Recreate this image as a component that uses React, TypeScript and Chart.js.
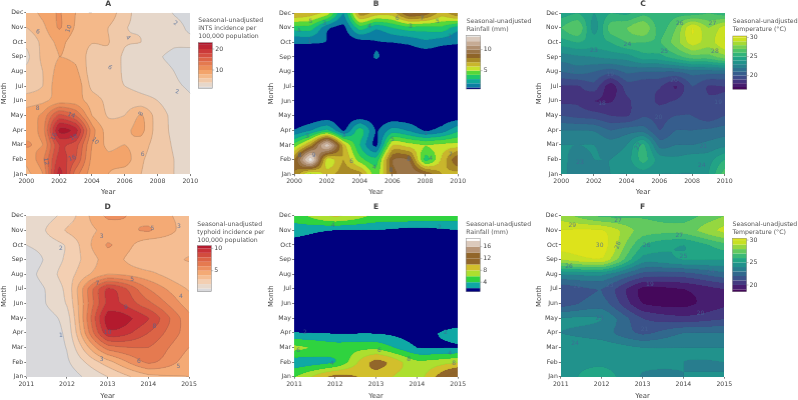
import React, { useEffect, useRef } from "react";
import { Chart, registerables } from "chart.js";

Chart.register(...registerables);

const MONTHS = ["Jan","Feb","Mar","Apr","May","Jun","Jul","Aug","Sep","Oct","Nov","Dec"];
const YEARS_TOP = [2000,2001,2002,2003,2004,2005,2006,2007,2008,2009,2010];
const YEARS_BOTTOM = [2011,2012,2013,2014,2015];

// rows run Jan -> Dec, columns run through the years
const INTS_INCIDENCE = [
  [7.5,10,21,13,9,8,7,6,5,4,3],
  [8.5,11.5,19,16,9.5,8.5,9,6.3,5,4,3],
  [10.2,10,18,17,10,7.5,8,7,5,3.8,2.8],
  [9,11,22.5,21,11,7,7.5,8.6,5,3.6,2.7],
  [9,10.5,16.5,14,8,5.8,6,8.2,5,3.5,2.6],
  [7,7.5,9,9,7,5.5,5,4.7,4,3,2.2],
  [5,6,9.5,9.5,5.5,5,4,3.5,3.2,2.3,1.8],
  [4.5,6,8.8,8.5,5,6,3.5,3,2.8,2,1.4],
  [3.5,6.5,8,7.5,5.2,5.5,3.6,3,2.2,1.6,1.4],
  [4.5,6.5,8.5,7,6.1,6.1,4.2,4,3,2.3,2.3],
  [6,7.5,10.2,7.8,7,6,4.1,3.8,3,2.6,1.7],
  [7,8.5,10.2,8,8,7.5,4.5,3.5,3,1.9,1.4],
];
const RAIN_TOP = [
  [8,4.5,6.5,7.5,7.5,4.5,8.5,10,9,7,6.5],
  [8,13.5,5.5,7,4.5,3.4,9,9,3.7,6.2,9],
  [4.5,7.5,12.5,6.5,3,0.8,6,5.5,5,5.3,5.5],
  [1.1,2,3.3,0.9,3.5,0.9,2.5,1.9,0.9,1.5,2.8],
  [0.3,0.3,0.4,0.3,0.4,0.3,0.3,0.3,0.3,0.3,0.4],
  [0.2,0.2,0.2,0.2,0.2,0.2,0.2,0.2,0.2,0.2,0.2],
  [0.2,0.2,0.2,0.2,0.2,0.2,0.2,0.2,0.2,0.2,0.2],
  [0.2,0.2,0.2,0.2,0.2,0.2,0.2,0.2,0.2,0.2,0.2],
  [0.2,0.2,0.2,0.2,0.2,1.1,0.2,0.2,0.2,0.2,0.2],
  [1.1,1.1,0.95,0.3,0.5,0.9,1,1.2,1.7,1.3,1.1],
  [3.5,3.5,1.2,0.7,3.5,2.2,3,3.6,3.6,3.7,2.4],
  [7,6.5,5.5,2,7.5,6.5,6.5,9,8.5,6.5,8],
];
const TEMP_TOP = [
  [23.5,22,22.5,23,23,23.5,23,23,23,24,26.5],
  [23.3,22.5,23,23,23.5,25.4,23.5,23.2,23.5,23.6,25],
  [23,23,23,22.5,23,25.2,21.6,22,22,22.3,22.7],
  [22,22,21.9,21,21.5,21.6,20,21,21,21.2,21.5],
  [20,19.7,19.5,19,18.9,19.9,19.6,20,20,19.3,20],
  [18.8,18.8,18,17.9,18.8,19.5,18.8,19.1,20,19.2,19.3],
  [18.9,18.9,19.6,17.4,19.5,19.3,19.1,17.9,20,18.9,19],
  [21,21.4,21,20.4,21.2,21,21,21,21.5,21.5,21.5],
  [22.5,22.8,23,23.3,23.5,24.5,24.6,25.5,26.5,26.5,27.5],
  [24.5,25,24.5,25,26,26,25.9,27.5,29.5,28.5,30],
  [26,27,23.5,26.5,27,28,25.5,27,30,28,29.5],
  [24.5,25,24,25,24.8,25.7,25.2,25.6,25.5,26,25.5],
];
const TYPHOID_INCIDENCE = [
  [0.3,0.5,2,3.7,4],
  [0.2,0.85,3.6,6.2,4.5],
  [0.5,1.05,6.5,7,5],
  [0.5,1.25,9.7,8,5.5],
  [0.5,1.5,10.6,9.05,5.3],
  [0.4,2.1,9.3,7.3,4.5],
  [0.3,2.3,9.2,6,3.9],
  [0.6,2.5,5,4.3,3.1],
  [0.3,2.2,4.4,3.2,4.1],
  [1,2.1,5.1,3.3,3.4],
  [1.1,3.1,4.3,5.1,3.5],
  [1,2.4,5.2,4.5,3.7],
];
const RAIN_BOTTOM = [
  [5.9,10.8,9,7,14],
  [2.9,4,10.8,6.4,7.8],
  [6.5,5,5.5,2,2],
  [2.1,1.9,1.9,1.2,2.8],
  [0.8,0.7,0.6,0.5,0.5],
  [0.5,0.5,0.5,0.5,0.5],
  [0.5,0.5,0.5,0.5,0.5],
  [0.5,0.5,0.5,0.5,0.5],
  [0.5,0.5,0.5,0.5,0.5],
  [1.2,0.5,0.5,0.5,0.5],
  [2.8,1.9,1.9,1.2,1.9],
  [5,8.3,5.5,5.5,5],
];
const TEMP_BOTTOM = [
  [24.6,25.5,23.9,24,24],
  [24.7,24.8,24.2,24,24],
  [24.5,24.6,24,24,24],
  [24,23.5,21.8,23,23],
  [24.1,24,21,20.3,20.9],
  [21.5,22.5,19,18.7,19.8],
  [21.3,22,18.7,19,20],
  [24,24.2,21.6,21.5,22.6],
  [29,29.8,24.5,25,25],
  [30.5,30.6,26,25,26.6],
  [30.1,30.1,27.5,27.4,29.3],
  [28.5,26.8,26.9,26.5,28],
];

// contour labels: [year, month position, text, rotation]
const LABELS_A = [[2009.1,11.27,"2",30],[2009.2,6.6,"2",10],[2006.2,10.3,"4",50],[2000.7,10.7,"6",10],[2005.1,8.25,"6",30],[2002.6,10.9,"10",-70],[2000.7,5.5,"8",0],[2007,5.1,"8",-60],[2002.75,5,"14",20],[2001.7,3.55,"16",-70],[2002.9,3.5,"18",-30],[2004.2,3.25,"10",45],[2007.1,2.3,"6",0],[2001.2,1.85,"12",80],[2002.8,2.07,"16",-20]];
const LABELS_B = [[2000.3,10.8,"4",-20],[2001,11.45,"5",0],[2001.85,11.3,"3",0],[2004.6,11.05,"4",0],[2006.3,11.65,"6",0],[2007.8,11.6,"7",0],[2008.75,11.4,"5",0],[2007.1,11.1,"3",0],[2000.95,10.05,"1",0],[2009.5,10.4,"1",0],[2006,3.35,"5",0],[2008.05,3.8,"1",0],[2000.8,3.55,"3",0],[2003.05,3.65,"3",0],[2000.35,2.3,"8",0],[2001.2,2.3,"9",0],[2004.9,1.5,"4",0],[2003.5,1.9,"6",0],[2005.9,1.27,"8",0],[2007,2,"8",0],[2008.35,2.07,"4",0],[2009.55,2.35,"7",0]];
const LABELS_C = [[2007.25,11.27,"26",0],[2009.25,11.3,"27",0],[2009.4,9.35,"28",0],[2004.05,9.85,"24",0],[2006.3,9.4,"25",0],[2002,9.45,"23",0],[2000.6,8.1,"21",0],[2003,7.8,"19",0],[2006.9,7.4,"20",0],[2002.5,5.8,"18",0],[2009.6,5.9,"19",0],[2005.95,4.85,"20",0],[2004.7,2.9,"22",-60],[2008.7,2.9,"21",0],[2001.15,1.8,"23",0],[2008.6,1.6,"24",0]];
const LABELS_D = [[2014.1,11.1,"5",0],[2014.75,11.25,"3",0],[2012.85,10.6,"3",0],[2011.85,9.75,"2",0],[2013.6,7.65,"5",0],[2012.75,7.35,"7",0],[2014.8,6.5,"4",0],[2013.45,5.7,"9",0],[2014.15,4.4,"8",0],[2013,4,"10",0],[2011.85,3.85,"1",0],[2012.85,2.15,"3",0],[2013.77,2.07,"6",0],[2014.74,1.7,"5",0]];
const LABELS_E = [[2011.95,11.35,"4",0],[2014.55,11.2,"2",0],[2011.27,4,"2",0],[2014.7,4.05,"2",0],[2011.1,2.8,"6",0],[2013.08,2.8,"6",0],[2014.8,2.6,"4",0],[2011.92,1.9,"4",0],[2013.8,2.15,"8",0],[2014.9,1.9,"8",0]];
const LABELS_F = [[2011.28,11.35,"29",0],[2012.4,11.65,"27",0],[2013.9,10.65,"27",0],[2012.4,9.98,"28",-70],[2013.1,10,"26",0],[2014,9.2,"25",0],[2011.2,8.55,"26",0],[2014.67,8.2,"24",0],[2011.4,7.2,"22",0],[2012.2,7.25,"23",0],[2013.18,7.3,"19",0],[2014.42,5.35,"20",0],[2013.05,4.25,"21",0],[2011.95,5,"23",0],[2011.35,3.3,"24",0],[2011.95,9.98,"30",0]];

const LEVELS_A = [2,4,6,8,10,12,14,16,18,20,22];
const LEVELS_B = [1,2,3,4,5,6,7,8,9,10,11,12,13];
const LEVELS_C = [17,18,19,20,21,22,23,24,25,26,27,28,29,30];
const LEVELS_D = [1,2,3,4,5,6,7,8,9,10];
const LEVELS_E = [2,4,6,8,10,12,14,16,18];
const LEVELS_F = [19,20,21,22,23,24,25,26,27,28,29,30];

const COLORS_A = ["#d5d7db","#e6d7ca","#f0c9a9","#f4b98a","#f3a46b","#ec8f5a","#e47a4f","#dd6547","#d54f41","#cb3a3a","#bd2634","#ab162b"];
const COLORS_B = ["#00007f","#0b7fa2","#0fa79a","#1fc86a","#55d83a","#c8e22c","#c9b62c","#a98a26","#8f6428","#9b7548","#b08f70","#c6ab94","#d9c9bc","#e9e6e2"];
const COLORS_D = ["#d9d9dc","#e8d9cc","#f3cfb2","#f5bd92","#f4aa75","#ed9060","#e57a50","#dc6446","#d24c3e","#c83238","#b41a2e"];
const COLORS_E = ["#00007f","#0fa8a5","#2fd33f","#acdf2f","#d2bf2c","#92662a","#92662a","#b89678","#dccabc","#ffffff"];
const VIRIDIS = ["#440154","#482475","#414487","#355f8d","#2a788e","#21918c","#22a884","#44bf70","#7ad151","#bddf26","#e4e419"];

const hex = (h: string) => [1, 3, 5].map((i) => parseInt(h.slice(i, i + 2), 16));
function viridisBands(levels: number[], lo: number, hi: number) {
  const edges = [lo, ...levels, hi];
  const out: string[] = [];
  for (let i = 0; i < edges.length - 1; i++) {
    const t = Math.min(1, Math.max(0, ((edges[i] + edges[i + 1]) / 2 - lo) / (hi - lo))) * 10;
    const k = Math.min(9, Math.floor(t));
    const a = hex(VIRIDIS[k]), b = hex(VIRIDIS[k + 1]);
    const c = a.map((v, j) => Math.round(v + (b[j] - v) * (t - k)));
    out.push("#" + c.map((v) => v.toString(16).padStart(2, "0")).join(""));
  }
  return out;
}

const TEXT = "#444";
const FONT = "'DejaVu Sans', Verdana, sans-serif";

type Panel = {
  title: string; years: number[]; step: number; grid: number[][]; levels: number[]; colors: string[];
  labels: any[]; legend: string[]; legendY: number; barTicks: number[];
  lo: number; hi: number; barX: number; barTop: number; barBottom: number;
  cell: [number, number, number, number]; plot: [number, number, number, number];
  line: string; titleY: number; xPad: number;
};

const PANELS: Panel[] = [
  { title: "A", years: YEARS_TOP, step: 2, grid: INTS_INCIDENCE, levels: LEVELS_A, colors: COLORS_A, labels: LABELS_A,
    legend: ["Seasonal-unadjusted", "iNTS incidence per", "100,000 population"], legendY: 20.7, barTicks: [10, 20],
    lo: 1.3, hi: 23, barX: 198.3, barTop: 42.7, barBottom: 88.3, cell: [0, 0, 267, 200], plot: [26.3, 12.7, 190.3, 174],
    line: "rgba(90,90,90,0.45)", titleY: 4.5, xPad: 3.3 },
  { title: "B", years: YEARS_TOP, step: 2, grid: RAIN_TOP, levels: LEVELS_B, colors: COLORS_B, labels: LABELS_B,
    legend: ["Seasonal-unadjusted", "Rainfall (mm)"], legendY: 21.7, barTicks: [5, 10],
    lo: 0.64, hi: 13.4, barX: 465.7, barTop: 35.3, barBottom: 89, cell: [267, 0, 267.5, 200], plot: [294, 13, 457.7, 174.3],
    line: "rgba(90,90,90,0.12)", titleY: 4.5, xPad: 3.3 },
  { title: "C", years: YEARS_TOP, step: 2, grid: TEMP_TOP, levels: LEVELS_C, colors: viridisBands(LEVELS_C, 16.4, 30.4), labels: LABELS_C,
    legend: ["Seasonal-unadjusted", "Temperature (\u00b0C)"], legendY: 21.7, barTicks: [20, 25, 30],
    lo: 16.4, hi: 30.4, barX: 732.3, barTop: 36, barBottom: 89.3, cell: [534.5, 0, 263.5, 200], plot: [560.7, 13, 724.7, 174],
    line: "rgba(90,90,90,0.06)", titleY: 4.5, xPad: 3.3 },
  { title: "D", years: YEARS_BOTTOM, step: 1, grid: TYPHOID_INCIDENCE, levels: LEVELS_D, colors: COLORS_D, labels: LABELS_D,
    legend: ["Seasonal-unadjusted", "typhoid incidence per", "100,000 population"], legendY: 224, barTicks: [5, 10],
    lo: 0.3, hi: 10.6, barX: 197.3, barTop: 245.7, barBottom: 291.7, cell: [0, 200, 267, 200], plot: [26.3, 215.7, 189, 376.7],
    line: "rgba(90,90,90,0.45)", titleY: 207, xPad: 0 },
  { title: "E", years: YEARS_BOTTOM, step: 1, grid: RAIN_BOTTOM, levels: LEVELS_E, colors: COLORS_E, labels: LABELS_E,
    legend: ["Seasonal-unadjusted", "Rainfall (mm)"], legendY: 224, barTicks: [4, 8, 12, 16],
    lo: 0.8, hi: 18.8, barX: 465.3, barTop: 238.3, barBottom: 291.7, cell: [267, 200, 267.5, 200], plot: [294, 215.7, 457.7, 376.7],
    line: "rgba(90,90,90,0.12)", titleY: 207, xPad: 0 },
  { title: "F", years: YEARS_BOTTOM, step: 1, grid: TEMP_BOTTOM, levels: LEVELS_F, colors: viridisBands(LEVELS_F, 18.5, 30.4), labels: LABELS_F,
    legend: ["Seasonal-unadjusted", "Temperature (\u00b0C)"], legendY: 224, barTicks: [20, 25, 30],
    lo: 18.5, hi: 30.4, barX: 732, barTop: 238.3, barBottom: 291.7, cell: [534.5, 200, 263.5, 200], plot: [560.3, 215.7, 724.3, 376.7],
    line: "rgba(90,90,90,0.06)", titleY: 207, xPad: 0 },
];

function cubic(p0: number, p1: number, p2: number, p3: number, t: number) {
  return p1 + 0.5 * t * (p2 - p0 + t * (2 * p0 - 5 * p1 + 4 * p2 - p3 + t * (3 * (p1 - p2) + p3 - p0)));
}
function sample(grid: number[][], xf: number, yf: number) {
  const rows = grid.length, cols = grid[0].length;
  const ix = Math.min(cols - 2, Math.max(0, Math.floor(xf)));
  const iy = Math.min(rows - 2, Math.max(0, Math.floor(yf)));
  const tx = xf - ix, ty = yf - iy;
  const at = (r: number, c: number) => grid[Math.max(0, Math.min(rows - 1, r))][Math.max(0, Math.min(cols - 1, c))];
  const rowVal: number[] = [];
  for (let r = -1; r <= 2; r++) rowVal.push(cubic(at(iy + r, ix - 1), at(iy + r, ix), at(iy + r, ix + 1), at(iy + r, ix + 2), tx));
  const bi = cubic(rowVal[0], rowVal[1], rowVal[2], rowVal[3], ty);
  const lin = (at(iy, ix) * (1 - tx) + at(iy, ix + 1) * tx) * (1 - ty) + (at(iy + 1, ix) * (1 - tx) + at(iy + 1, ix + 1) * tx) * ty;
  return 0.5 * bi + 0.5 * lin;
}

const contourPlugin = {
  id: "contourFill",
  beforeDatasetsDraw(chart: any, _a: any, opts: any) {
    const p: Panel = opts.panel;
    const { ctx, chartArea: ca, scales } = chart;
    const SS = 2;
    const W = Math.ceil((ca.right - ca.left) * SS), H = Math.ceil((ca.bottom - ca.top) * SS);
    const off = document.createElement("canvas");
    off.width = W; off.height = H;
    const octx = off.getContext("2d")!;
    const img = octx.createImageData(W, H);
    const rgb = p.colors.map(hex);
    const field = new Float32Array((W + 1) * (H + 1));
    const y0 = p.years[0];
    for (let j = 0; j <= H; j++) {
      const m = scales.y.getValueForPixel(ca.top + (j * (ca.bottom - ca.top)) / H);
      for (let i = 0; i <= W; i++) {
        const yr = scales.x.getValueForPixel(ca.left + (i * (ca.right - ca.left)) / W);
        field[j * (W + 1) + i] = sample(p.grid, yr - y0, m - 1);
      }
    }
    for (let j = 0; j < H; j++) for (let i = 0; i < W; i++) {
      const v = field[j * (W + 1) + i];
      let b = 0;
      while (b < p.levels.length && v >= p.levels[b]) b++;
      const k = (j * W + i) * 4, c = rgb[b];
      img.data[k] = c[0]; img.data[k + 1] = c[1]; img.data[k + 2] = c[2]; img.data[k + 3] = 255;
    }
    octx.putImageData(img, 0, 0);
    ctx.save();
    ctx.imageSmoothingEnabled = true;
    ctx.drawImage(off, ca.left, ca.top, ca.right - ca.left, ca.bottom - ca.top);
    ctx.beginPath();
    const sx = (ca.right - ca.left) / W, sy = (ca.bottom - ca.top) / H;
    for (const L of p.levels) {
      for (let j = 0; j < H; j++) for (let i = 0; i < W; i++) {
        const a = field[j * (W + 1) + i], b = field[j * (W + 1) + i + 1];
        const d = field[(j + 1) * (W + 1) + i], c = field[(j + 1) * (W + 1) + i + 1];
        const pts: number[][] = [];
        if (a < L !== b < L) pts.push([i + (L - a) / (b - a), j]);
        if (b < L !== c < L) pts.push([i + 1, j + (L - b) / (c - b)]);
        if (d < L !== c < L) pts.push([i + (L - d) / (c - d), j + 1]);
        if (a < L !== d < L) pts.push([i, j + (L - a) / (d - a)]);
        if (pts.length >= 2) {
          ctx.moveTo(ca.left + pts[0][0] * sx, ca.top + pts[0][1] * sy);
          ctx.lineTo(ca.left + pts[1][0] * sx, ca.top + pts[1][1] * sy);
        }
      }
    }
    ctx.strokeStyle = p.line; ctx.lineWidth = 0.5; ctx.stroke();
    ctx.restore();
  },
  afterDatasetsDraw(chart: any, _a: any, opts: any) {
    const p: Panel = opts.panel;
    const { ctx, scales, chartArea: ca } = chart;
    const [cx, cy] = p.cell;
    ctx.save();
    ctx.textAlign = "center"; ctx.textBaseline = "middle";
    ctx.font = `6px ${FONT}`;
    ctx.fillStyle = "rgba(70,100,150,0.75)";
    for (const [yr, m, t, ang] of p.labels) {
      ctx.save();
      ctx.translate(scales.x.getPixelForValue(yr), scales.y.getPixelForValue(m));
      ctx.rotate((ang * Math.PI) / 180);
      ctx.fillText(t, 0, 0);
      ctx.restore();
    }
    ctx.fillStyle = TEXT;
    ctx.font = `bold 7.6px ${FONT}`;
    ctx.fillText(p.title, (ca.left + ca.right) / 2, p.titleY - cy);
    ctx.textAlign = "left";
    ctx.font = `6.2px ${FONT}`;
    ctx.fillStyle = "#555";
    p.legend.forEach((s, i) => ctx.fillText(s, p.barX - cx, p.legendY - cy + i * 8));
    const yOf = (v: number) => p.barBottom - cy - ((v - p.lo) / (p.hi - p.lo)) * (p.barBottom - p.barTop);
    const edges = [p.lo, ...p.levels, p.hi];
    const bx = p.barX - cx;
    for (let i = 0; i < p.colors.length; i++) {
      const lo = Math.max(p.lo, edges[i]), hi = Math.min(p.hi, edges[i + 1]);
      if (hi <= lo) continue;
      ctx.fillStyle = p.colors[i];
      ctx.fillRect(bx, yOf(hi), 14, yOf(lo) - yOf(hi));
    }
    ctx.strokeStyle = "rgba(90,90,90,0.7)"; ctx.lineWidth = 0.5;
    ctx.strokeRect(bx, p.barTop - cy, 14, p.barBottom - p.barTop);
    ctx.fillStyle = TEXT; ctx.font = `6.2px ${FONT}`;
    for (const t of p.barTicks) {
      ctx.beginPath(); ctx.moveTo(bx + 14, yOf(t)); ctx.lineTo(bx + 16, yOf(t)); ctx.stroke();
      ctx.fillText(String(t), bx + 17, yOf(t));
    }
    ctx.restore();
  },
};

function makeChart(canvas: HTMLCanvasElement, p: Panel) {
  const [cx, cy, cw, ch] = p.cell;
  const [l, t, r, b] = p.plot;
  const points: any[] = [];
  p.grid.forEach((row, i) => row.forEach((z, j) => points.push({ x: p.years[j], y: i + 1, z })));
  return new Chart(canvas, {
    type: "scatter",
    data: { datasets: [{ data: points, pointRadius: 0, showLine: false }] },
    plugins: [contourPlugin as any],
    options: {
      animation: false, responsive: false, devicePixelRatio: 1,
      layout: { padding: { left: 0, top: t - cy, right: cw - (r - cx), bottom: 0 } },
      plugins: { legend: { display: false }, tooltip: { enabled: false }, title: { display: false }, contourFill: { panel: p } } as any,
      scales: {
        x: {
          type: "linear", min: p.years[0], max: p.years[p.years.length - 1],
          border: { display: false },
          grid: { drawOnChartArea: false, drawTicks: true, tickLength: 2, color: TEXT, lineWidth: 0.7 },
          ticks: { stepSize: p.step, maxRotation: 0, autoSkip: false, padding: 1.5, color: TEXT, font: { size: 6.2, family: FONT }, callback: (v: any) => String(v) },
          title: { display: true, text: "Year", color: TEXT, font: { size: 6.9, family: FONT }, padding: { top: 0, bottom: p.xPad } },
          afterFit: (s: any) => { s.height = cy + ch - b; },
        },
        y: {
          type: "linear", min: 1, max: 12,
          border: { display: false },
          grid: { drawOnChartArea: false, drawTicks: true, tickLength: 2, color: TEXT, lineWidth: 0.7 },
          ticks: { stepSize: 1, autoSkip: false, padding: 1, color: TEXT, font: { size: 6.2, family: FONT }, callback: (v: any) => MONTHS[Number(v) - 1] },
          title: { display: true, text: "Month", color: TEXT, font: { size: 6.9, family: FONT }, padding: { top: 0, bottom: 0 } },
          afterFit: (s: any) => { s.width = l - cx; },
        },
      },
    } as any,
  });
}

function PanelChart({ p }: { p: Panel }) {
  const ref = useRef<HTMLCanvasElement>(null);
  useEffect(() => {
    const chart = makeChart(ref.current!, p);
    return () => chart.destroy();
  }, [p]);
  const [x, y, w, h] = p.cell;
  return <canvas ref={ref} width={w} height={h} style={{ position: "absolute", left: x, top: y, width: w, height: h }} />;
}

export default function App() {
  return (
    <div style={{ position: "fixed", left: 0, top: 0, width: 798, height: 400, background: "#fff", overflow: "hidden" }}>
      {PANELS.map((p) => <PanelChart key={p.title} p={p} />)}
    </div>
  );
}
